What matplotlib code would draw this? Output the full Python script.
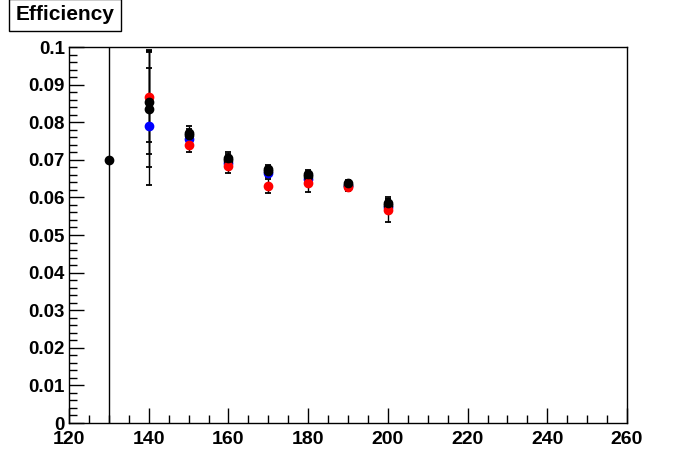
import numpy as np
import matplotlib
matplotlib.use("Agg")
import matplotlib.pyplot as plt
from matplotlib.ticker import MultipleLocator, FormatStrFormatter

plt.rcParams['font.family'] = ['Liberation Sans', 'DejaVu Sans']
plt.rcParams['font.weight'] = 'bold'

# mass points (x) and efficiencies
x_pts = [140, 150, 160, 170, 180, 190, 200]

# first black series also has the lone point at 130
black1_x = [130] + x_pts
black1_y = [0.0700, 0.0854, 0.0771, 0.0704, 0.0675, 0.0662, 0.0637, 0.0585]
black1_err = [0.2, 0.0138, 0.0018, 0.0017, 0.0010, 0.0010, 0.0010, 0.0017]

black2_y = [0.0835, 0.0765, 0.0700, 0.0670, 0.0658, 0.0633, 0.0580]
black2_err = [0.0155, 0.0017, 0.0016, 0.0012, 0.0010, 0.0009, 0.0015]

blue_y = [0.0789, 0.0756, 0.0692, 0.0665, 0.0650, 0.0630, 0.0575]
blue_err = [0.0156, 0.0016, 0.0015, 0.0012, 0.0010, 0.0009, 0.0015]

red_y = [0.0867, 0.0739, 0.0684, 0.0630, 0.0637, 0.0627, 0.0566]
red_err = [0.0120, 0.0018, 0.0019, 0.0018, 0.0023, 0.0009, 0.0031]

fig = plt.figure(figsize=(6.96, 4.72), dpi=100)
ax = fig.add_axes([69 / 696, 1 - 423 / 472, 558 / 696, 376 / 472])

style = dict(fmt='o', markersize=6.0, elinewidth=1.0, capsize=2.3,
             capthick=1.3, ecolor='black')

for ys, errs, col in [(blue_y, blue_err, 'blue'),
                      (black2_y, black2_err, 'black'),
                      (red_y, red_err, 'red')]:
    ax.errorbar(x_pts, ys, yerr=errs, color=col, markeredgecolor=col,
                **style)
ax.errorbar(black1_x, black1_y, yerr=black1_err, color='black',
            markeredgecolor='black', **style)

ax.set_xlim(120, 260)
ax.set_ylim(0, 0.1)

ax.xaxis.set_major_locator(MultipleLocator(20))
ax.xaxis.set_minor_locator(MultipleLocator(5))
ax.yaxis.set_major_locator(MultipleLocator(0.01))
ax.yaxis.set_minor_locator(MultipleLocator(0.002))
ax.yaxis.set_major_formatter(FormatStrFormatter('%g'))

ax.tick_params(which='both', direction='in', top=False, right=False,
               width=1.0)
ax.tick_params(which='major', length=11)
ax.tick_params(which='minor', length=5.5)
ax.tick_params(axis='x', pad=6, labelsize=14)
ax.tick_params(axis='y', pad=3, labelsize=13.5)
for lbl in ax.get_xticklabels() + ax.get_yticklabels():
    lbl.set_fontweight('bold')

for sp in ax.spines.values():
    sp.set_linewidth(1.0)

# title box in the top-left corner, ROOT style
fig.text(65 / 696, 1 - 15 / 472, 'Efficiency', ha='center', va='center',
         fontsize=15, fontweight='bold',
         bbox=dict(boxstyle='square,pad=0.3', facecolor='white',
                   edgecolor='black', linewidth=1.0))

fig.savefig('out.png', dpi=100)
